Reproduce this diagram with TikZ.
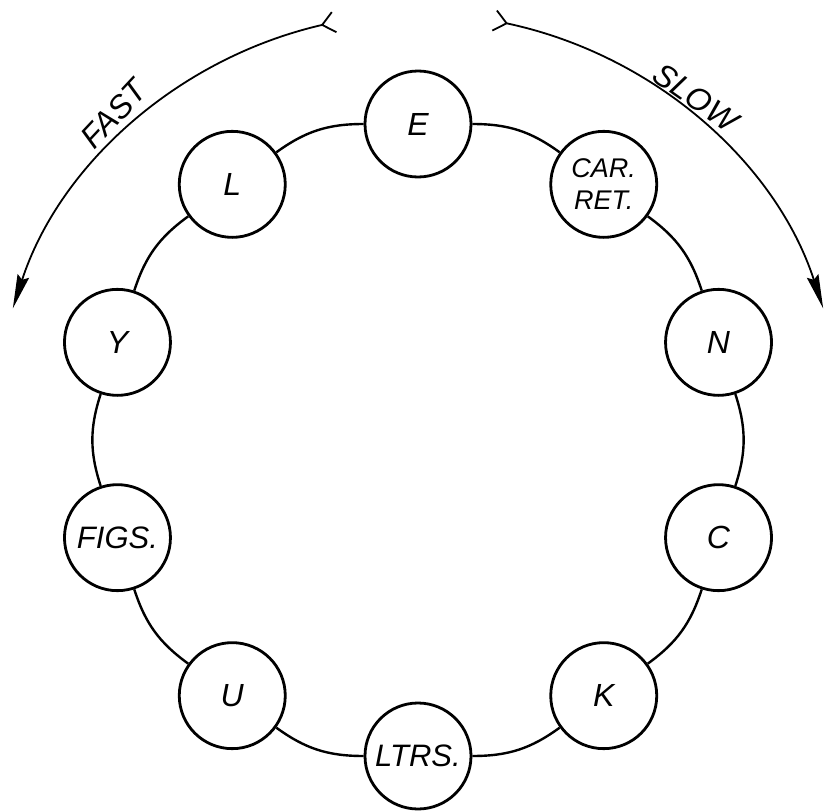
\documentclass[tikz,border=0pt]{standalone}
\usepackage{fontspec}
\setmainfont{Liberation Sans}
\usetikzlibrary{arrows.meta}

\begin{document}
\begin{tikzpicture}[x=0.5pt, y=0.5pt,
    key/.style={circle, draw, line width=1.4pt, fill=white, minimum size=53pt,
      inner sep=0pt, font=\fontsize{16}{17}\selectfont\itshape},
    word/.style={key, align=center, font=\fontsize{15.5}{16}\selectfont\itshape},
    pair/.style={key, align=center, font=\fontsize{13.5}{16}\selectfont\itshape},
    link/.style={line width=1.2pt},
    sweep/.style={line width=0.9pt, -{Stealth[length=17pt, width=6pt, inset=2pt]}},
    barb/.style={line width=0.9pt},
    tag/.style={font=\fontsize{16}{17}\selectfont\itshape}]

  \useasboundingbox (0,0) rectangle (825,811);

  \begin{scope}[shift={(418,371)}]
    % keys round the ring, 36 degrees apart
    \node[key]  (e)    at (90:316)  {E};
    \node[pair] (car)  at (54:316)  {CAR.\\RET.};
    \node[key]  (n)    at (18:316)  {N};
    \node[key]  (c)    at (-18:316) {C};
    \node[key]  (k)    at (-54:316) {K};
    \node[word] (ltrs) at (-90:316) {LTRS.};
    \node[key]  (u)    at (234:316) {U};
    \node[word] (figs) at (198:316) {FIGS.};
    \node[key]  (y)    at (162:316) {Y};
    \node[key]  (l)    at (126:316) {L};

    \foreach \a/\b in {e/car, car/n, n/c, c/k, k/ltrs, ltrs/u, u/figs,
        figs/y, y/l, l/e}
      \draw[link] (\a) to[bend left=18] (\b);

    % direction arrows
    \coordinate (fastfrom) at (103:426);
    \coordinate (slowfrom) at (78:426);
    \draw[sweep] (fastfrom) arc[start angle=103, end angle=162, radius=426];
    \draw[sweep] (slowfrom) arc[start angle=78, end angle=18, radius=426];
    \draw[barb] (fastfrom) -- ++(53:16) (fastfrom) -- ++(-27:16);
    \draw[barb] (slowfrom) -- ++(127:16) (slowfrom) -- ++(207:16);

    \node[tag, rotate=47]  (fast) at (133:446) {FAST};
    \node[tag, rotate=-35] (slow) at (51:441)  {SLOW};
  \end{scope}
\end{tikzpicture}
\end{document}
